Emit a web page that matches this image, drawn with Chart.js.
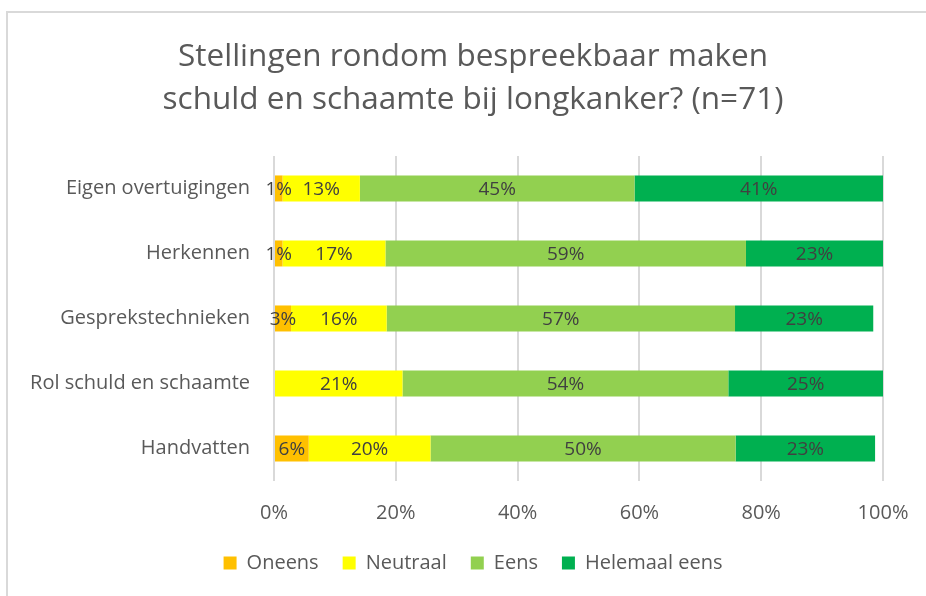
<!DOCTYPE html>
<html><head><meta charset="utf-8">
<script src="https://cdn.jsdelivr.net/npm/chart.js@4/dist/chart.umd.min.js"></script>
<style>
html,body{margin:0;padding:0;background:#fff;overflow:hidden}
#frame{position:absolute;left:6px;top:11px;width:1000px;height:1000px;border:2px solid #d9d9d9;box-sizing:border-box}
#wrap{position:absolute;left:0;top:0;width:926px;height:596px}
</style></head>
<body>
<div id="frame"></div>
<div id="wrap"><canvas id="c" width="926" height="596"></canvas></div>
<script>
const categories = ["Eigen overtuigingen","Herkennen","Gesprekstechnieken","Rol schuld en schaamte","Handvatten"];
const oneens = [1.4, 1.4, 2.8, 0, 5.7];
const neutraal = [12.7, 16.9, 15.7, 21.1, 20.0];
const eens = [45.1, 59.2, 57.2, 53.5, 50.1];
const helemaalEens = [40.8, 22.5, 22.7, 25.4, 22.9];
const seriesNames = ["Oneens","Neutraal","Eens","Helemaal eens"];
const seriesColors = ["#FFC000","#FFFF00","#92D050","#00B050"];
const xTicks = [0,20,40,60,80,100];
const titleLines = ["Stellingen rondom bespreekbaar maken","schuld en schaamte bij longkanker? (n=71)"];

const FONT = "'Open Sans'";
const PAD_L = 10, PAD_R = 43, PAD_T = 35, PAD_B = 13;
const SHIFT = 53; // centre title & legend over the frame
const labelPlugin = {
  id:'barLabels',
  afterLayout(chart){
    [chart.titleBlock, chart.legend].forEach(b=>{ if(b){ b.left += SHIFT; } });
  },
  afterDatasetsDraw(chart){
    const ctx = chart.ctx;
    ctx.save();
    ctx.font = "19px " + FONT;
    ctx.fillStyle = "#404040";
    ctx.textAlign = "center";
    ctx.textBaseline = "middle";
    chart.data.datasets.forEach((ds,i)=>{
      const meta = chart.getDatasetMeta(i);
      meta.data.forEach((el,j)=>{
        const v = ds.data[j];
        if (!v) return;
        const cx = (el.x + el.base)/2;
        ctx.fillText(Math.round(v)+"%", cx, el.y+1);
      });
    });
    ctx.restore();
  }
};

const data = {
  labels: categories,
  datasets: [oneens, neutraal, eens, helemaalEens].map((d,i)=>({
    label: seriesNames[i], data: d, backgroundColor: seriesColors[i],
    borderWidth: 0, barPercentage: 0.4, categoryPercentage: 1.0
  }))
};

new Chart(document.getElementById('c'), {
  type:'bar',
  data,
  plugins:[labelPlugin],
  options:{
    indexAxis:'y',
    responsive:false,
    animation:false,
    layout:{padding:{left:PAD_L,right:PAD_R,top:PAD_T,bottom:PAD_B}},
    plugins:{
      title:{display:true,text:titleLines,color:'#595959',font:{family:FONT,size:31.5,weight:'normal',lineHeight:1.38},padding:{top:0,bottom:34}},
      legend:{position:'bottom',labels:{color:'#595959',font:{family:FONT,size:20},boxWidth:13,boxHeight:13,padding:24}},
      tooltip:{enabled:false}
    },
    scales:{
      x:{stacked:true,min:0,max:100,afterBuildTicks(ax){ax.ticks = xTicks.map(v=>({value:v}));},
         afterFit(ax){ax.height = 48; ax.paddingLeft = 0; ax.paddingRight = 0;},
         ticks:{callback:v=>v+'%',color:'#595959',font:{family:FONT,size:20},padding:20},
         grid:{color:'#d9d9d9',lineWidth:2,drawTicks:false},border:{display:false}},
      y:{stacked:true,
         afterFit(ax){ax.width = 274 - PAD_L;},
         ticks:{color:'#595959',font:{family:FONT,size:20},padding:24},
         grid:{display:false,drawTicks:false},border:{display:false}}
    }
  }
});
</script>
</body></html>
